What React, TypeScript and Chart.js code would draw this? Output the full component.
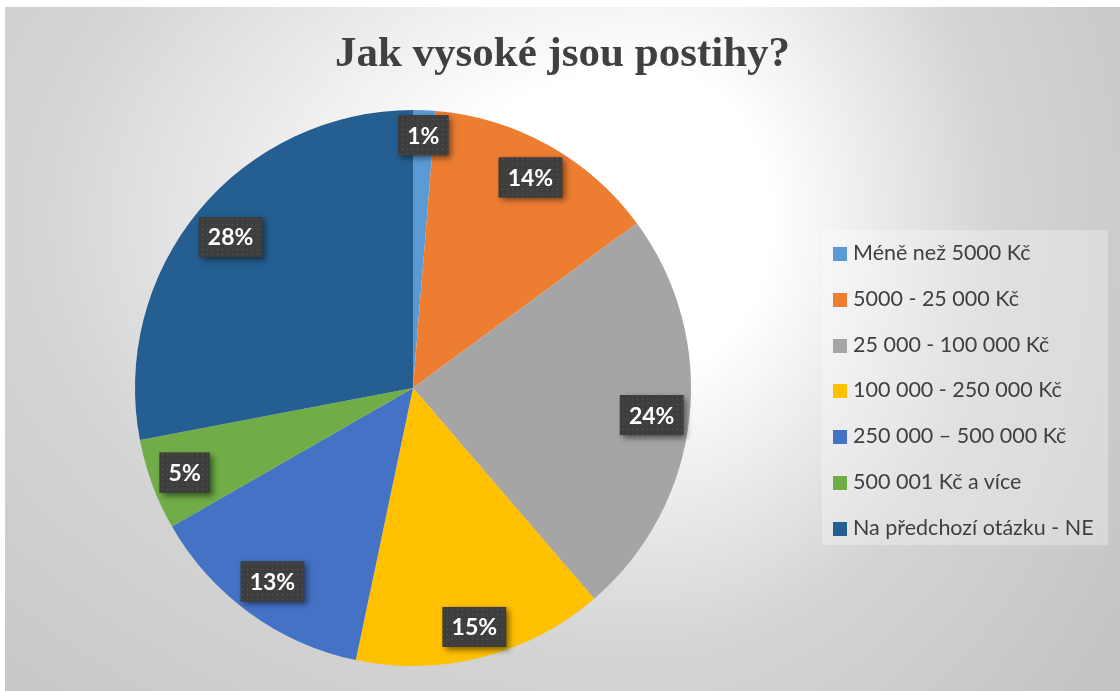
import React, { useEffect, useRef } from 'react';
import { Chart, registerables } from 'chart.js';

Chart.register(...registerables);

const chartTitle = 'Jak vysoké jsou postihy?';
const categories = [
  'Méně než 5000 Kč',
  '5000 - 25 000 Kč',
  '25 000 - 100 000 Kč',
  '100 000 - 250 000 Kč',
  '250 000 – 500 000 Kč',
  '500 001 Kč a více',
  'Na předchozí otázku - NE',
];
const shares = [1.3, 13.6, 23.8, 14.6, 13.4, 5.3, 28.0];
const colors = ['#5B9BD5', '#ED7D31', '#A5A5A5', '#FFC000', '#4472C4', '#70AD47', '#255E91'];

const W = 1115;
const H = 684;

function makeBackground(w: number, h: number) {
  const c = document.createElement('canvas');
  c.width = w;
  c.height = h;
  const g = c.getContext('2d')!;
  const img = g.createImageData(w, h);
  const cx = 645;
  const cy = 213;
  for (let y = 0; y < h; y++) {
    for (let x = 0; x < w; x++) {
      const dx = x - cx;
      const dy = y - cy;
      const nx = dx > 0 ? dx / 480 : dx / 860;
      const ny = dy / 600;
      const t = Math.sqrt(nx * nx + ny * ny);
      let v: number;
      if (t < 0.25) v = 255;
      else if (t < 0.72) v = 255 - ((t - 0.25) / 0.47) * 43;
      else if (t < 1.2) v = 212 - ((t - 0.72) / 0.48) * 16;
      else v = 196;
      const i = (y * w + x) * 4;
      img.data[i] = v;
      img.data[i + 1] = v;
      img.data[i + 2] = v;
      img.data[i + 3] = 255;
    }
  }
  g.putImageData(img, 0, 0);
  return c;
}

function makePattern(ctx: CanvasRenderingContext2D) {
  const c = document.createElement('canvas');
  c.width = 5;
  c.height = 5;
  const g = c.getContext('2d')!;
  g.fillStyle = '#3e3e3e';
  g.fillRect(0, 0, 5, 5);
  g.fillStyle = '#5a5a5a';
  g.fillRect(2, 2, 1, 1);
  return ctx.createPattern(c, 'repeat')!;
}

const backgroundPlugin = {
  id: 'bgGradient',
  beforeDraw(chart: any) {
    const ctx = chart.ctx as CanvasRenderingContext2D;
    if (!chart.$bg) chart.$bg = makeBackground(chart.width, chart.height);
    ctx.save();
    ctx.drawImage(chart.$bg, 0, 0, chart.width, chart.height);
    ctx.restore();
  },
};

const labelPlugin = {
  id: 'boxLabels',
  afterDatasetsDraw(chart: any) {
    const ctx = chart.ctx as CanvasRenderingContext2D;
    const meta = chart.getDatasetMeta(0);
    const data = chart.data.datasets[0].data as number[];
    const total = data.reduce((a, b) => a + b, 0);
    const pattern = makePattern(ctx);
    ctx.save();
    ctx.font = 'bold 23px Lato';
    meta.data.forEach((arc: any, i: number) => {
      const { x, y, startAngle, endAngle, outerRadius } = arc.getProps(
        ['x', 'y', 'startAngle', 'endAngle', 'outerRadius'],
        true
      );
      const text = Math.round((data[i] / total) * 100) + '%';
      const tw = ctx.measureText(text).width;
      const w = tw + 18;
      const h = 40;
      const a = (startAngle + endAngle) / 2;
      const e = (Math.abs(Math.cos(a)) * w) / 2 + (Math.abs(Math.sin(a)) * h) / 2;
      const d = outerRadius - e - 4;
      const bx = x + Math.cos(a) * d;
      const by = y + Math.sin(a) * d;
      ctx.save();
      ctx.shadowColor = 'rgba(0,0,0,0.5)';
      ctx.shadowBlur = 6;
      ctx.shadowOffsetX = 3;
      ctx.shadowOffsetY = 3;
      ctx.fillStyle = '#3e3e3e';
      ctx.fillRect(bx - w / 2, by - h / 2, w, h);
      ctx.restore();
      ctx.fillStyle = pattern;
      ctx.fillRect(bx - w / 2, by - h / 2, w, h);
      ctx.fillStyle = '#ffffff';
      ctx.textAlign = 'center';
      ctx.textBaseline = 'middle';
      ctx.fillText(text, bx, by + 1);
    });
    ctx.restore();
  },
};

export default function App() {
  const canvasRef = useRef<HTMLCanvasElement | null>(null);

  useEffect(() => {
    if (!canvasRef.current) return;
    const chart = new Chart(canvasRef.current, {
      type: 'pie',
      data: {
        labels: categories,
        datasets: [
          {
            data: shares,
            backgroundColor: colors,
            borderWidth: 0,
            hoverOffset: 0,
          },
        ],
      },
      options: {
        responsive: false,
        animation: false,
        events: [],
        layout: { padding: { left: 130, right: 429, top: 103, bottom: 25 } },
        plugins: {
          legend: { display: false },
          title: { display: false },
          tooltip: { enabled: false },
        },
      },
      plugins: [backgroundPlugin, labelPlugin],
    });
    return () => chart.destroy();
  }, []);

  return (
    <div
      style={{
        position: 'fixed',
        left: 5,
        top: 7,
        width: W,
        height: H,
        overflow: 'hidden',
      }}
    >
      <canvas
        ref={canvasRef}
        width={W}
        height={H}
        style={{ position: 'absolute', left: 0, top: 0, width: W, height: H }}
      />
      <div
        style={{
          position: 'absolute',
          left: 0,
          top: 19,
          width: W,
          textAlign: 'center',
          fontFamily: '"Liberation Serif", serif',
          fontWeight: 'bold',
          fontSize: 43,
          lineHeight: '52px',
          color: '#404040',
        }}
      >
        {chartTitle}
      </div>
      <div
        style={{
          position: 'absolute',
          left: 817,
          top: 223,
          width: 286,
          height: 315,
          background: 'rgba(255,255,255,0.3)',
          fontFamily: 'Lato, sans-serif',
          fontSize: 21.5,
          color: '#404040',
        }}
      >
        {categories.map((c, i) => (
          <div
            key={c}
            style={{
              position: 'absolute',
              left: 11,
              top: 9 + i * 45.83,
              height: 26,
              lineHeight: '26px',
              display: 'flex',
              alignItems: 'center',
              whiteSpace: 'nowrap',
            }}
          >
            <span
              style={{
                display: 'inline-block',
                width: 14,
                height: 14,
                marginTop: 4,
                marginRight: 6,
                background: colors[i],
              }}
            />
            <span>{c}</span>
          </div>
        ))}
      </div>
    </div>
  );
}
